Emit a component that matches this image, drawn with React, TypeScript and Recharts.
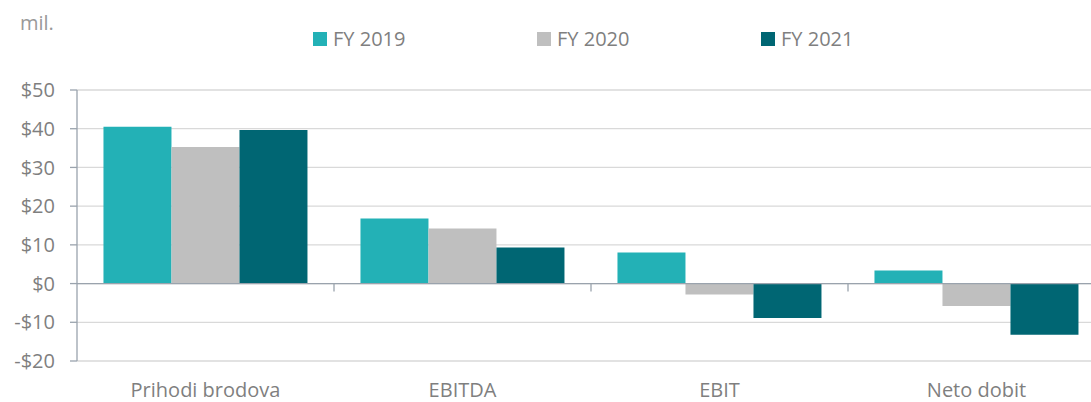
import React from 'react';
import { BarChart, Bar, XAxis, YAxis, CartesianGrid, ReferenceLine } from 'recharts';

const categories = ['Prihodi brodova', 'EBITDA', 'EBIT', 'Neto dobit'];
const fy2019 = [40.5, 16.8, 8.0, 3.4];
const fy2020 = [35.3, 14.2, -2.8, -5.8];
const fy2021 = [39.7, 9.3, -8.9, -13.2];
const yTicks = [-20, -10, 0, 10, 20, 30, 40, 50];

const series = [
  { key: 'fy2019', name: 'FY 2019', color: '#23B1B6', values: fy2019 },
  { key: 'fy2020', name: 'FY 2020', color: '#BFBFBF', values: fy2020 },
  { key: 'fy2021', name: 'FY 2021', color: '#006673', values: fy2021 },
];

const data = categories.map((name, i) => {
  const row: Record<string, string | number> = { name };
  series.forEach(s => { row[s.key] = s.values[i]; });
  return row;
});

const FONT = '"Open Sans", sans-serif';
const TEXT = '#7F7F7F';
const AXIS = '#9AA3AD';
const legendLeft = [313, 537, 761];

const fmt = (v: number) => (v < 0 ? `-$${Math.abs(v)}` : `$${v}`);

// zero line with category separators hanging below it
const ZeroLine = (props: any) => {
  const { x1, x2, y1 } = props;
  const step = (x2 - x1) / categories.length;
  return (
    <g>
      <line x1={x1} x2={x2} y1={y1} y2={y1} stroke={AXIS} strokeWidth={1.3} />
      {categories.slice(1).map((_, i) => (
        <line key={i} x1={x1 + step * (i + 1)} x2={x1 + step * (i + 1)} y1={y1} y2={y1 + 8} stroke={AXIS} strokeWidth={1.3} />
      ))}
    </g>
  );
};

const App: React.FC = () => {
  return (
    <div style={{ position: 'absolute', left: 0, top: 0, width: 1091, height: 402, overflow: 'hidden', fontFamily: FONT, background: '#fff' }}>
      <div style={{ position: 'absolute', left: 20, top: 9, fontSize: 20, lineHeight: '27px', color: '#999999' }}>mil.</div>
      {series.map((s, i) => (
        <div key={s.key} style={{ position: 'absolute', left: legendLeft[i], top: 25, height: 27, display: 'flex', alignItems: 'center', fontSize: 20, lineHeight: '27px', color: TEXT }}>
          <span style={{ display: 'inline-block', width: 14, height: 14, background: s.color, marginRight: 6 }} />
          <span>{s.name}</span>
        </div>
      ))}
      <div style={{ position: 'absolute', left: 0, top: 0 }}>
        <BarChart width={1105} height={402} data={data} margin={{ top: 90, right: 0, bottom: 0, left: 0 }} barGap={0} barCategoryGap="10.3%">
          <CartesianGrid vertical={false} stroke="#D9D9D9" strokeWidth={1.3} />
          <XAxis
            dataKey="name"
            height={41}
            axisLine={false}
            tickLine={false}
            tickMargin={16}
            tick={{ fill: TEXT, fontSize: 20, fontFamily: FONT }}
          />
          <YAxis
            width={77}
            domain={[-20, 50]}
            ticks={yTicks}
            interval={0}
            tickFormatter={fmt}
            axisLine={{ stroke: AXIS, strokeWidth: 1.3 }}
            tickLine={{ stroke: AXIS, strokeWidth: 1.3 }}
            tickSize={7}
            tickMargin={15}
            tick={{ fill: TEXT, fontSize: 20, fontFamily: FONT }}
          />
          {series.map(s => (
            <Bar key={s.key} dataKey={s.key} name={s.name} fill={s.color} isAnimationActive={false} />
          ))}
          <ReferenceLine y={0} shape={ZeroLine} />
        </BarChart>
      </div>
    </div>
  );
};

export default App;
